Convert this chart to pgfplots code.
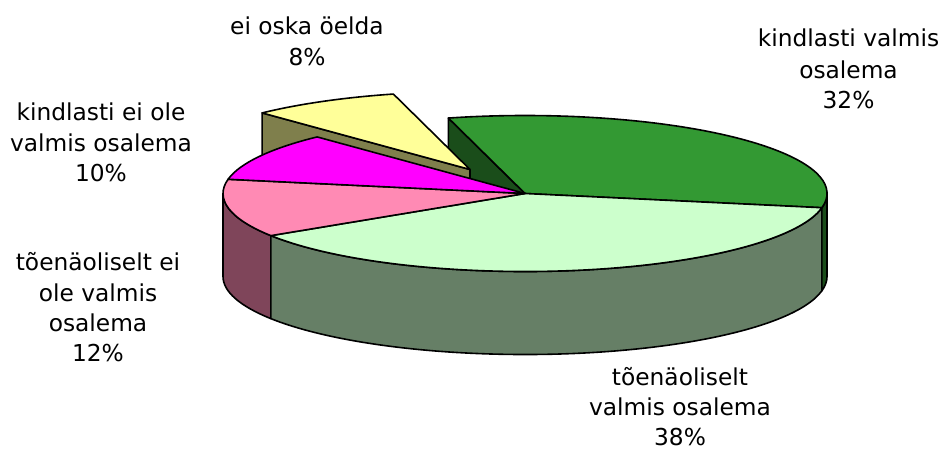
\documentclass[border=0pt]{standalone}
\usepackage{pgfplots}
\pgfplotsset{compat=1.18}
\usepackage{fontspec}
\setmainfont{DejaVu Sans}
\definecolor{cGreen}{HTML}{339933}
\definecolor{cGreenSide}{HTML}{1A4D1A}
\definecolor{cLight}{HTML}{CCFFCC}
\definecolor{cLightSide}{HTML}{667F66}
\definecolor{cPink}{HTML}{FF8AB4}
\definecolor{cPinkSide}{HTML}{7F455A}
\definecolor{cMag}{HTML}{FF00FF}
\definecolor{cYel}{HTML}{FFFF99}
\definecolor{cYelSide}{HTML}{7F7F4C}
\tikzset{lbl/.style={font=\fontsize{23.3}{28}\selectfont,inner sep=0pt,anchor=base}}
% data (percent)
\def\vGreen{32}\def\vYel{8}\def\vMag{10}\def\vPink{12}\def\vLight{38}
\begin{document}
\begin{tikzpicture}
\pgfmathsetmacro\cx{525}
\pgfmathsetmacro\cy{257.5}
\pgfmathsetmacro\ra{302}
\pgfmathsetmacro\rb{78}
\pgfmathsetmacro\dep{83}
\pgfmathsetmacro\tA{-10.5}
\pgfmathsetmacro\tB{\tA+3.6*\vGreen}
\pgfmathsetmacro\tC{\tB+3.6*\vYel}
\pgfmathsetmacro\tD{\tC+3.6*\vMag}
\pgfmathsetmacro\tE{\tD+3.6*\vPink}
\pgfmathsetmacro\tF{\tE+3.6*\vLight}
\pgfmathsetmacro\ox{-55}
\pgfmathsetmacro\oy{24}
\pgfmathsetmacro\xA{\cx+\ra*cos(\tA)}\pgfmathsetmacro\yA{\cy+\rb*sin(\tA)}
\pgfmathsetmacro\xB{\cx+\ra*cos(\tB)}\pgfmathsetmacro\yB{\cy+\rb*sin(\tB)}
\pgfmathsetmacro\xC{\cx+\ra*cos(\tC)}\pgfmathsetmacro\yC{\cy+\rb*sin(\tC)}
\pgfmathsetmacro\xD{\cx+\ra*cos(\tD)}\pgfmathsetmacro\yD{\cy+\rb*sin(\tD)}
\pgfmathsetmacro\xE{\cx+\ra*cos(\tE)}\pgfmathsetmacro\yE{\cy+\rb*sin(\tE)}
\pgfmathsetmacro\xL{\cx-\ra}
\pgfmathsetmacro\xR{\cx+\ra}
\pgfmathsetmacro\cyd{\cy-\dep}
% exploded slice
\pgfmathsetmacro\ycx{\cx+\ox}\pgfmathsetmacro\ycy{\cy+\oy}
\pgfmathsetmacro\ycyd{\ycy-\dep}
\pgfmathsetmacro\yxB{\xB+\ox}\pgfmathsetmacro\yyB{\yB+\oy}
\pgfmathsetmacro\yxC{\xC+\ox}\pgfmathsetmacro\yyC{\yC+\oy}
\begin{axis}[x=1pt,y=1pt,xmin=0,xmax=949,ymin=0,ymax=451,hide axis,clip=false]
\path (axis cs:0,0) rectangle (axis cs:949,451);
\begin{scope}[line width=1.6pt,line join=round]
% radial face of green slice
\filldraw[fill=cGreenSide] (axis cs:\cx,\cy) -- (axis cs:\xB,\yB) -- ++(0,-\dep pt) -- (axis cs:\cx,\cyd) -- cycle;
% outer walls (front)
\filldraw[fill=cPinkSide] (axis cs:\xL,\cy) arc[start angle=180,end angle=\tE,x radius=\ra pt,y radius=\rb pt]
  -- ++(0,-\dep pt) arc[start angle=\tE,end angle=180,x radius=\ra pt,y radius=\rb pt] -- cycle;
\filldraw[fill=cLightSide] (axis cs:\xE,\yE) arc[start angle=\tE,end angle=\tF,x radius=\ra pt,y radius=\rb pt]
  -- ++(0,-\dep pt) arc[start angle=\tF,end angle=\tE,x radius=\ra pt,y radius=\rb pt] -- cycle;
\filldraw[fill=cGreenSide] (axis cs:\xA,\yA) arc[start angle=\tF,end angle=360,x radius=\ra pt,y radius=\rb pt]
  -- ++(0,-\dep pt) arc[start angle=360,end angle=\tF,x radius=\ra pt,y radius=\rb pt] -- cycle;
% exploded yellow slice
\filldraw[fill=cYelSide] (axis cs:\ycx,\ycy) -- (axis cs:\yxC,\yyC) -- ++(0,-\dep pt) -- (axis cs:\ycx,\ycyd) -- cycle;
\filldraw[fill=cYel] (axis cs:\ycx,\ycy) -- (axis cs:\yxB,\yyB) arc[start angle=\tB,end angle=\tC,x radius=\ra pt,y radius=\rb pt] -- cycle;
% tops
\filldraw[fill=cGreen] (axis cs:\cx,\cy) -- (axis cs:\xA,\yA) arc[start angle=\tA,end angle=\tB,x radius=\ra pt,y radius=\rb pt] -- cycle;
\filldraw[fill=cLight] (axis cs:\cx,\cy) -- (axis cs:\xE,\yE) arc[start angle=\tE,end angle=\tF,x radius=\ra pt,y radius=\rb pt] -- cycle;
\filldraw[fill=cPink] (axis cs:\cx,\cy) -- (axis cs:\xD,\yD) arc[start angle=\tD,end angle=\tE,x radius=\ra pt,y radius=\rb pt] -- cycle;
\filldraw[fill=cMag] (axis cs:\cx,\cy) -- (axis cs:\xC,\yC) arc[start angle=\tC,end angle=\tD,x radius=\ra pt,y radius=\rb pt] -- cycle;
\end{scope}
% labels
\node[lbl] at (axis cs:307,416) {ei oska öelda};
\node[lbl] at (axis cs:307,386) {8\%};
\node[lbl] at (axis cs:848.5,404) {kindlasti valmis};
\node[lbl] at (axis cs:848.5,373) {osalema};
\node[lbl] at (axis cs:848.5,342.5) {32\%};
\node[lbl] at (axis cs:101,330.3) {kindlasti ei ole};
\node[lbl] at (axis cs:101,299.3) {valmis osalema};
\node[lbl] at (axis cs:101,269.3) {10\%};
\node[lbl] at (axis cs:98,181) {tõenäoliselt ei};
\node[lbl] at (axis cs:98,149.3) {ole valmis};
\node[lbl] at (axis cs:98,119.3) {osalema};
\node[lbl] at (axis cs:98,89.3) {12\%};
\node[lbl] at (axis cs:680,66) {tõenäoliselt};
\node[lbl] at (axis cs:680,36) {valmis osalema};
\node[lbl] at (axis cs:680,6) {38\%};
\end{axis}
\end{tikzpicture}
\end{document}
